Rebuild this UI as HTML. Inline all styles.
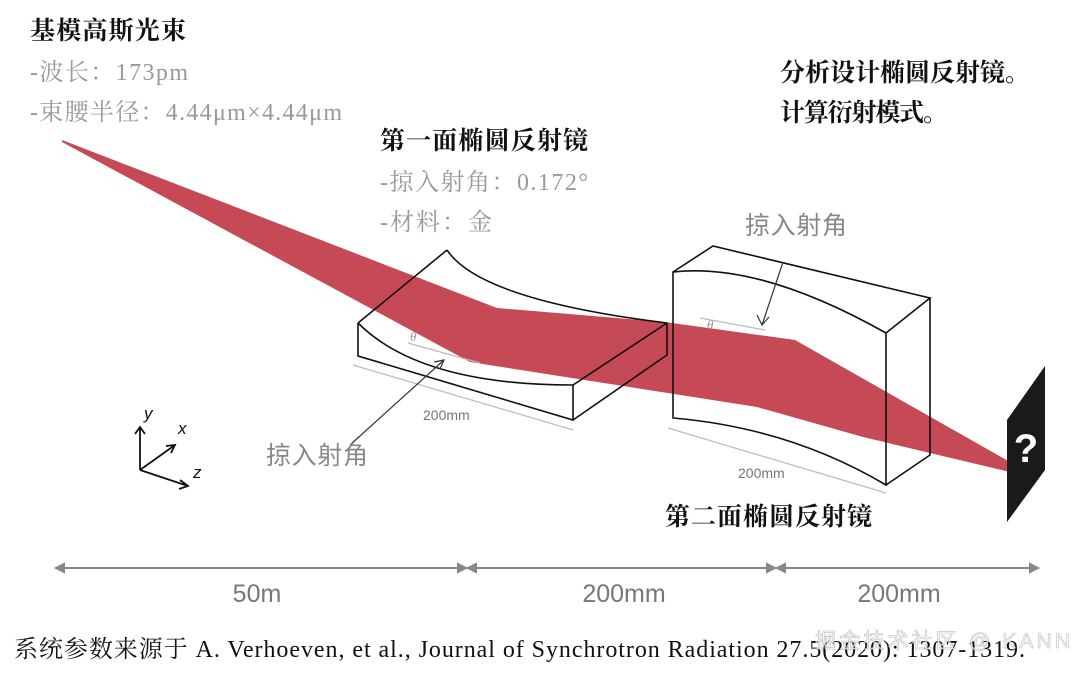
<!DOCTYPE html>
<html><head><meta charset="utf-8"><style>
body{margin:0;background:#fff}
svg{display:block}
.cn{font-family:"Liberation Serif","Noto Serif CJK SC",serif}
.gs{font-family:"Liberation Sans","Noto Sans CJK SC",sans-serif}
</style></head><body>
<svg width="1089" height="678" viewBox="0 0 1089 678">
<polygon fill="#c54a55" points="62,140 497,308 665,322 795,340 1010,462 1010,472 863,437 757,407 470,362 62,142"/>
<g fill="none" stroke="#111" stroke-width="1.6">
<path d="M447,250 L358,323 M447,250 Q480,300 667,323 M358,323 Q420,385 573,385 M667,323 L573,385 M358,323 L358,356 L573,420 L573,385 M667,323 L667,355 L573,420"/>
</g>
<g fill="none" stroke="#111" stroke-width="1.6">
<path d="M673,272 Q760,262 886,333 L886,485 Q790,428 673,418 Z M673,272 L713,246 L930,298 L886,333 M930,298 L930,455 L886,485"/>
</g>
<g stroke="#bbb" stroke-width="1.2" fill="none">
<path d="M353,365 L573,430 M668,428 L886,493 M408,343 L480,363 M700,318 L765,330"/>
</g>
<text x="423" y="420" class="gs" font-size="14" fill="#777">200mm</text>
<text x="738" y="478" class="gs" font-size="14" fill="#777">200mm</text>
<text x="410" y="341" class="cn" font-size="13" font-style="italic" fill="#999">θ</text>
<text x="707" y="329" class="cn" font-size="13" font-style="italic" fill="#999">θ</text>
<g stroke="#333" stroke-width="1.2" fill="none">
<path d="M350,445 L444,360 M434,362 L444,360 L440,369"/>
<path d="M783,262 L762,325 M757,315 L762,325 L769,317"/>
</g>
<text x="266" y="464" class="gs" font-size="25" textLength="102" fill="#888">掠入射角</text>
<text x="745" y="234" class="gs" font-size="25" textLength="102" fill="#888">掠入射角</text>
<g>
<polygon points="1007,420 1045,366 1045,470 1007,522" fill="#1a1a1a"/>
<text x="1026" y="462" font-size="40" fill="#fff" text-anchor="middle" class="gs" font-weight="bold">?</text>
</g>
<g stroke="#111" stroke-width="1.8" fill="none">
<path d="M140,470 L140,427 M135,434 L140,427 L145,434 M140,470 L175,445 M166,446 L175,445 L171,453 M140,470 L188,486 M180,480 L188,486 L179,489"/>
</g>
<text x="144" y="419" font-size="17" class="gs" font-style="italic" fill="#111">y</text>
<text x="178" y="434" font-size="17" class="gs" font-style="italic" fill="#111">x</text>
<text x="193" y="478" font-size="17" class="gs" font-style="italic" fill="#111">z</text>
<text x="30" y="39" class="cn" font-size="25" textLength="156" font-weight="bold" fill="#111">基模高斯光束</text>
<text x="30" y="80" class="cn" font-size="24" textLength="158" fill="#999">-波长：173pm</text>
<text x="30" y="120" class="cn" font-size="24" textLength="312" fill="#999">-束腰半径：4.44μm×4.44μm</text>
<text x="380" y="149" class="cn" font-size="25" textLength="208" font-weight="bold" fill="#111">第一面椭圆反射镜</text>
<text x="380" y="190" class="cn" font-size="24" textLength="208" fill="#999">-掠入射角：0.172°</text>
<text x="380" y="230" class="cn" font-size="24" textLength="112" fill="#999">-材料：金</text>
<text x="780" y="81" class="cn" font-size="25" textLength="250" font-weight="bold" fill="#111">分析设计椭圆反射镜。</text>
<text x="780" y="121" class="cn" font-size="25" textLength="168" font-weight="bold" fill="#111">计算衍射模式。</text>
<text x="665" y="525" class="cn" font-size="25" textLength="207" font-weight="bold" fill="#111">第二面椭圆反射镜</text>
<g stroke="#888" stroke-width="2" fill="#888">
<path d="M58,568 L1036,568"/>
<polygon points="56,568 64,564 64,572"/>
<polygon points="466,568 458,564 458,572"/><polygon points="468,568 476,564 476,572"/>
<polygon points="775,568 767,564 767,572"/><polygon points="777,568 785,564 785,572"/>
<polygon points="1038,568 1030,564 1030,572"/>
</g>
<text x="257" y="602" class="gs" font-size="25" fill="#777" text-anchor="middle">50m</text>
<text x="624" y="602" class="gs" font-size="25" fill="#777" text-anchor="middle">200mm</text>
<text x="899" y="602" class="gs" font-size="25" fill="#777" text-anchor="middle">200mm</text>
<text x="14" y="657" class="cn" font-size="24" textLength="1011" fill="#111">系统参数来源于 A. Verhoeven, et al., Journal of Synchrotron Radiation 27.5(2020): 1307-1319.</text>
<text x="815" y="648" class="gs" font-size="21" textLength="255" fill="#fff" stroke="#aaa" stroke-width="0.6" opacity="0.8">掘金技术社区 @ KANN</text>
</svg>
</body></html>
